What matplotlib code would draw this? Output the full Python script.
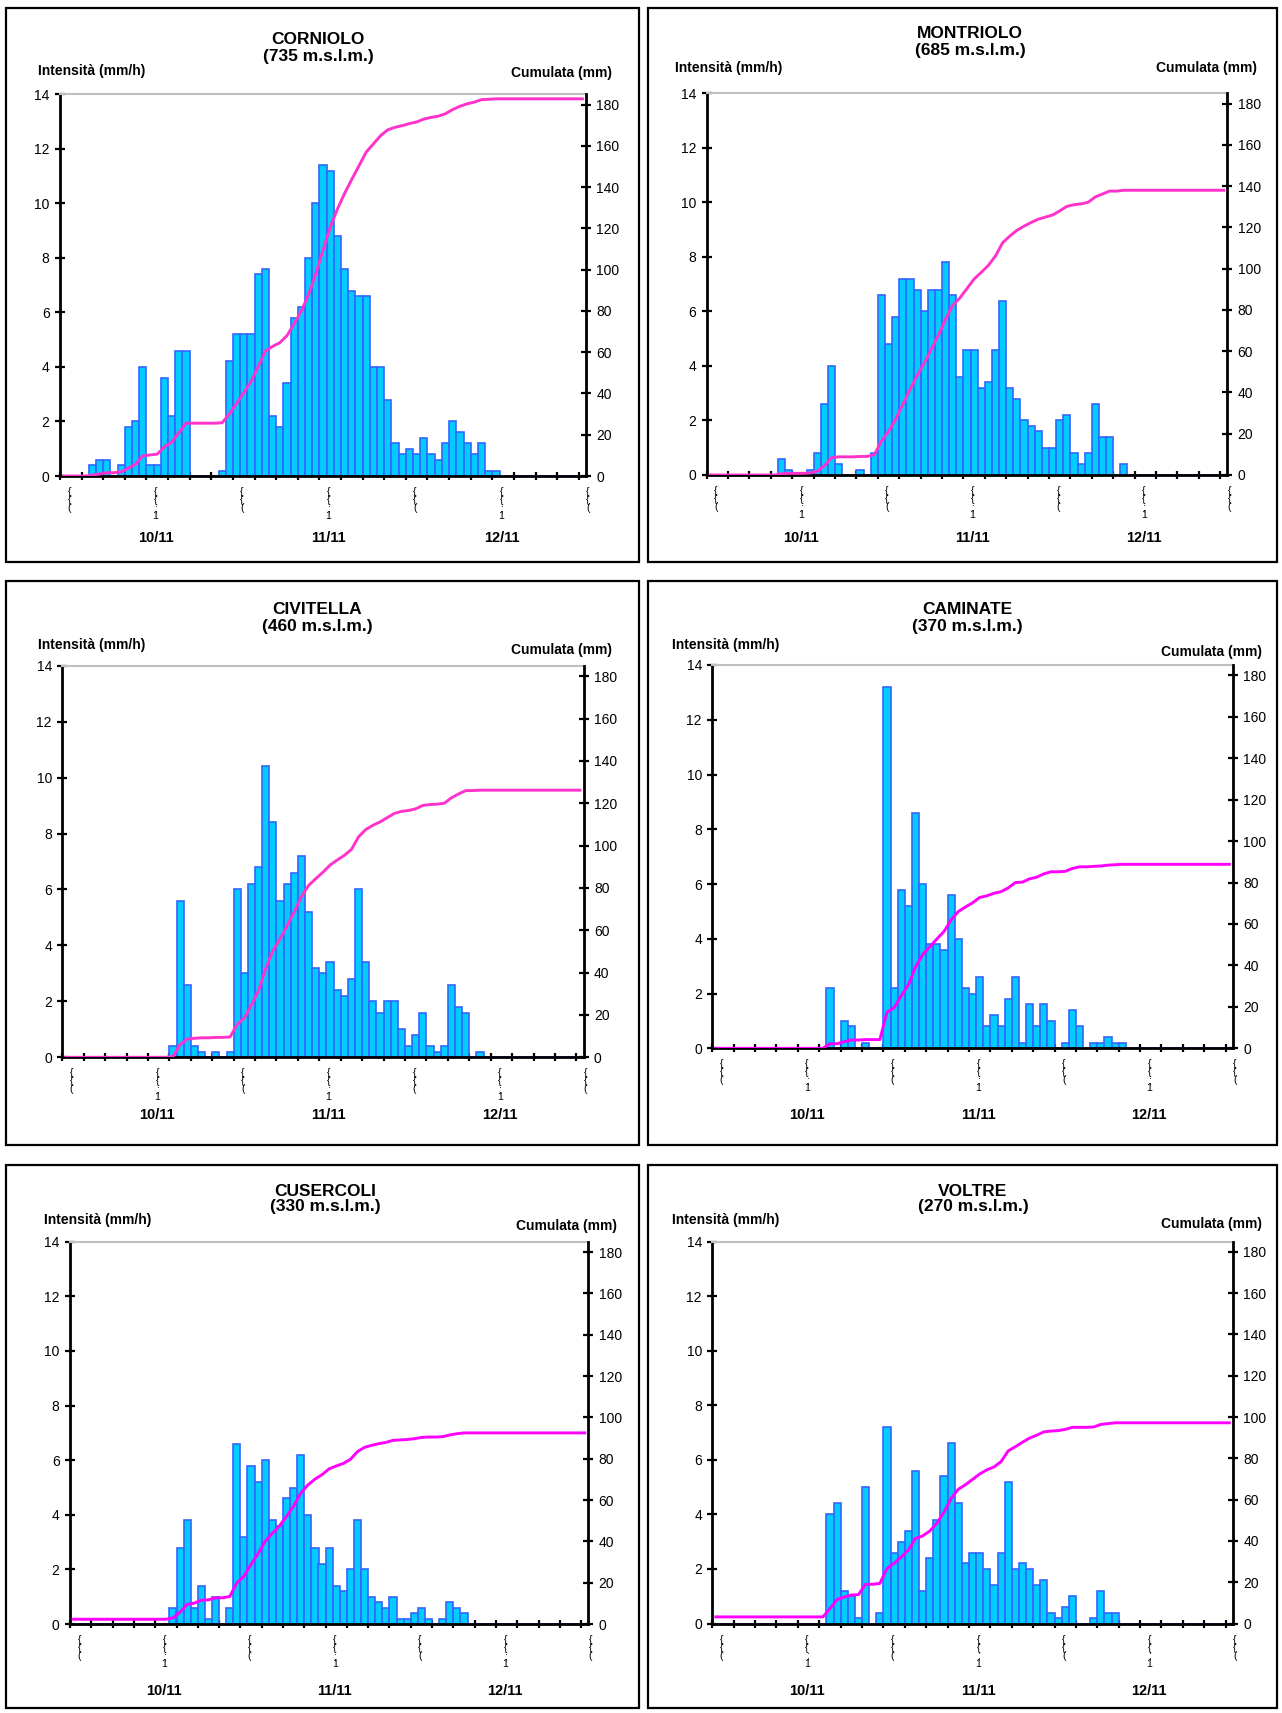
import numpy as np
import matplotlib
matplotlib.use("Agg")
import matplotlib.pyplot as plt
from matplotlib.patches import Rectangle

plt.rcParams["font.family"] = ["Liberation Sans", "DejaVu Sans"]

W, H = 1282, 1713

# ---- data -------------------------------------------------------------
stations = ["CORNIOLO", "MONTRIOLO", "CIVITELLA", "CAMINATE", "CUSERCOLI", "VOLTRE"]
quotes = ["(735 m.s.l.m.)", "(685 m.s.l.m.)", "(460 m.s.l.m.)",
          "(370 m.s.l.m.)", "(330 m.s.l.m.)", "(270 m.s.l.m.)"]

# hourly intensity (mm/h), 73 hourly categories from 10/11 to 13/11
corniolo = [
    0, 0, 0, 0, 0.4, 0.6, 0.6, 0, 0.4, 1.8, 2.0, 4.0,
    0.4, 0.4, 3.6, 2.2, 4.6, 4.6, 0, 0, 0, 0, 0.2, 4.2,
    5.2, 5.2, 5.2, 7.4, 7.6, 2.2, 1.8, 3.4, 5.8, 6.2, 8.0, 10.0,
    11.4, 11.2, 8.8, 7.6, 6.8, 6.6, 6.6, 4.0, 4.0, 2.8, 1.2, 0.8,
    1.0, 0.8, 1.4, 0.8, 0.6, 1.2, 2.0, 1.6, 1.2, 0.8, 1.2, 0.2,
    0.2, 0, 0, 0, 0, 0, 0, 0, 0, 0, 0, 0,
    0]
montriolo = [
    0, 0, 0, 0, 0, 0, 0, 0, 0, 0, 0.6, 0.2,
    0, 0, 0.2, 0.8, 2.6, 4.0, 0.4, 0, 0, 0.2, 0, 0.8,
    6.6, 4.8, 5.8, 7.2, 7.2, 6.8, 6.0, 6.8, 6.8, 7.8, 6.6, 3.6,
    4.6, 4.6, 3.2, 3.4, 4.6, 6.4, 3.2, 2.8, 2.0, 1.8, 1.6, 1.0,
    1.0, 2.0, 2.2, 0.8, 0.4, 0.8, 2.6, 1.4, 1.4, 0, 0.4, 0,
    0, 0, 0, 0, 0, 0, 0, 0, 0, 0, 0, 0,
    0]
civitella = [
    0, 0, 0, 0, 0, 0, 0, 0, 0, 0, 0, 0,
    0, 0, 0, 0.4, 5.6, 2.6, 0.4, 0.2, 0, 0.2, 0, 0.2,
    6.0, 3.0, 6.2, 6.8, 10.4, 8.4, 5.6, 6.2, 6.6, 7.2, 5.2, 3.2,
    3.0, 3.4, 2.4, 2.2, 2.8, 6.0, 3.4, 2.0, 1.6, 2.0, 2.0, 1.0,
    0.4, 0.8, 1.6, 0.4, 0.2, 0.4, 2.6, 1.8, 1.6, 0, 0.2, 0,
    0, 0, 0, 0, 0, 0, 0, 0, 0, 0, 0, 0,
    0]
caminate = [
    0, 0, 0, 0, 0, 0, 0, 0, 0, 0, 0, 0,
    0, 0, 0, 0, 2.2, 0, 1.0, 0.8, 0, 0.2, 0, 0,
    13.2, 2.2, 5.8, 5.2, 8.6, 6.0, 3.8, 3.8, 3.6, 5.6, 4.0, 2.2,
    2.0, 2.6, 0.8, 1.2, 0.8, 1.8, 2.6, 0.2, 1.6, 0.8, 1.6, 1.0,
    0, 0.2, 1.4, 0.8, 0, 0.2, 0.2, 0.4, 0.2, 0.2, 0, 0,
    0, 0, 0, 0, 0, 0, 0, 0, 0, 0, 0, 0,
    0]
cusercoli = [
    0, 0, 0, 0, 0, 0, 0, 0, 0, 0, 0, 0,
    0, 0, 0.6, 2.8, 3.8, 0.6, 1.4, 0.2, 1.0, 0, 0.6, 6.6,
    3.2, 5.8, 5.2, 6.0, 3.8, 3.6, 4.6, 5.0, 6.2, 4.0, 2.8, 2.2,
    2.8, 1.4, 1.2, 2.0, 3.8, 2.0, 1.0, 0.8, 0.6, 1.0, 0.2, 0.2,
    0.4, 0.6, 0.2, 0, 0.2, 0.8, 0.6, 0.4, 0, 0, 0, 0,
    0, 0, 0, 0, 0, 0, 0, 0, 0, 0, 0, 0,
    0]
voltre = [
    0, 0, 0, 0, 0, 0, 0, 0, 0, 0, 0, 0,
    0, 0, 0, 0, 4.0, 4.4, 1.2, 1.0, 0.2, 5.0, 0, 0.4,
    7.2, 2.6, 3.0, 3.4, 5.6, 1.2, 2.4, 3.8, 5.4, 6.6, 4.4, 2.2,
    2.6, 2.6, 2.0, 1.4, 2.6, 5.2, 2.0, 2.2, 2.0, 1.4, 1.6, 0.4,
    0.2, 0.6, 1.0, 0, 0, 0.2, 1.2, 0.4, 0.4, 0, 0, 0,
    0, 0, 0, 0, 0, 0, 0, 0, 0, 0, 0, 0,
    0]
intensity = [corniolo, montriolo, civitella, caminate, cusercoli, voltre]
# cumulated rain already fallen before the period (mm)
cum_start = [0, 0, 0, 0, 2.3, 3.2]

hour_label_pos = [0, 12, 24, 36, 48, 60, 72]
hour_labels = ["{\n{\n(", "{\n{\n;\n1", "{\n{\n(", "{\n{\n;\n1",
               "{\n{\n(", "{\n{\n;\n1", "{\n{\n("]
date_pos = [12, 36, 60]
date_labels = ["10/11", "11/11", "12/11"]

# ---- layout (pixels) --------------------------------------------------
frames = [(6, 8, 639, 562), (648, 8, 1277, 562),
          (6, 581, 639, 1145), (648, 581, 1277, 1145),
          (6, 1165, 639, 1708), (648, 1165, 1277, 1708)]
boxes = [(60, 94.3, 586, 476), (706.7, 93.3, 1227.3, 475),
         (62.3, 665.7, 583.5, 1057.3), (712.3, 665, 1232.8, 1048.3),
         (70, 1241.8, 588.3, 1624), (712.3, 1241.5, 1232.8, 1623.5)]
titles_xy = [(318, 39, 57), (970, 33, 51), (317, 609, 627),
             (967, 609, 627), (325, 1191, 1207), (973, 1191, 1207)]
left_lab = [(38, 71), (675, 68), (38, 645), (672, 645), (44, 1220), (672, 1220)]
right_lab = [(612, 73), (1257, 68), (612, 650), (1262, 652), (617, 1226), (1262, 1224)]
date_y = [538, 538, 1115, 1115, 1691, 1691]
line_colors = ["#FF33CC", "#FF33CC", "#FF33CC", "#FF00FF", "#FF00FF", "#FF00FF"]


def fx(x):
    return x / W


def fy(y):
    return 1 - y / H


fig = plt.figure(figsize=(W / 100, H / 100), dpi=100)

for i, values in enumerate(intensity):
    l, t, r, b = frames[i]
    fig.patches.append(Rectangle((fx(l), fy(b)), fx(r) - fx(l), fy(t) - fy(b),
                                 transform=fig.transFigure, fill=False,
                                 edgecolor="black", linewidth=1.6))

    l, t, r, b = boxes[i]
    ax = fig.add_axes([fx(l), fy(b), fx(r) - fx(l), fy(t) - fy(b)])
    x = np.arange(len(values))
    ax.bar(x, values, width=1.0, align="edge", color="#00CCFF",
           edgecolor="#3366FF", linewidth=1.2, zorder=2)
    ax.set_xlim(0, len(values))
    ax.set_ylim(0, 14)
    ax.set_yticks(range(0, 15, 2))
    ax.set_xticks(np.arange(0, len(values), 3))
    ax.set_xticklabels([])
    ax.tick_params(axis="y", direction="inout", length=7, width=1.6,
                   labelsize=10, pad=4)
    ax.tick_params(axis="x", direction="inout", length=6, width=1.6)
    for s in ["left", "bottom"]:
        ax.spines[s].set_linewidth(2)
    ax.spines["right"].set_visible(False)
    ax.spines["top"].set_color("#C0C0C0")
    ax.spines["top"].set_linewidth(1.5)

    ax2 = ax.twinx()
    cum = cum_start[i] + np.cumsum(values)
    ax2.plot(x + 0.5, cum, color=line_colors[i], linewidth=2.1,
             solid_joinstyle="round")
    ax2.set_ylim(0, 185)
    ax2.set_yticks(range(0, 181, 20))
    ax2.tick_params(axis="y", direction="inout", length=7, width=1.6,
                    labelsize=10, pad=4)
    ax2.spines["right"].set_linewidth(2)
    for s in ["left", "top", "bottom"]:
        ax2.spines[s].set_visible(False)

    for k, lab in zip(hour_label_pos, hour_labels):
        ax.annotate(lab, xy=(k + 0.5, 0), xycoords=("data", "axes fraction"),
                    xytext=(4, -8), textcoords="offset points",
                    ha="center", va="top", fontsize=7.5, linespacing=0.75)
    for k, lab in zip(date_pos, date_labels):
        ax.annotate(lab, xy=(k + 0.5, 0), xycoords=("data", "axes fraction"),
                    xytext=(4, -(date_y[i] - b) * 0.72), textcoords="offset points",
                    ha="center", va="center", fontsize=10.5, fontweight="bold")

    tx, ty, sy = titles_xy[i]
    fig.text(fx(tx), fy(ty), stations[i], ha="center", va="center",
             fontsize=12.5, fontweight="bold")
    fig.text(fx(tx), fy(sy), quotes[i], ha="center", va="center",
             fontsize=12.5, fontweight="bold")
    fig.text(fx(left_lab[i][0]), fy(left_lab[i][1]), "Intensità (mm/h)",
             ha="left", va="center", fontsize=10, fontweight="bold")
    fig.text(fx(right_lab[i][0]), fy(right_lab[i][1]), "Cumulata (mm)",
             ha="right", va="center", fontsize=10, fontweight="bold")

fig.savefig("out.png", dpi=100)
